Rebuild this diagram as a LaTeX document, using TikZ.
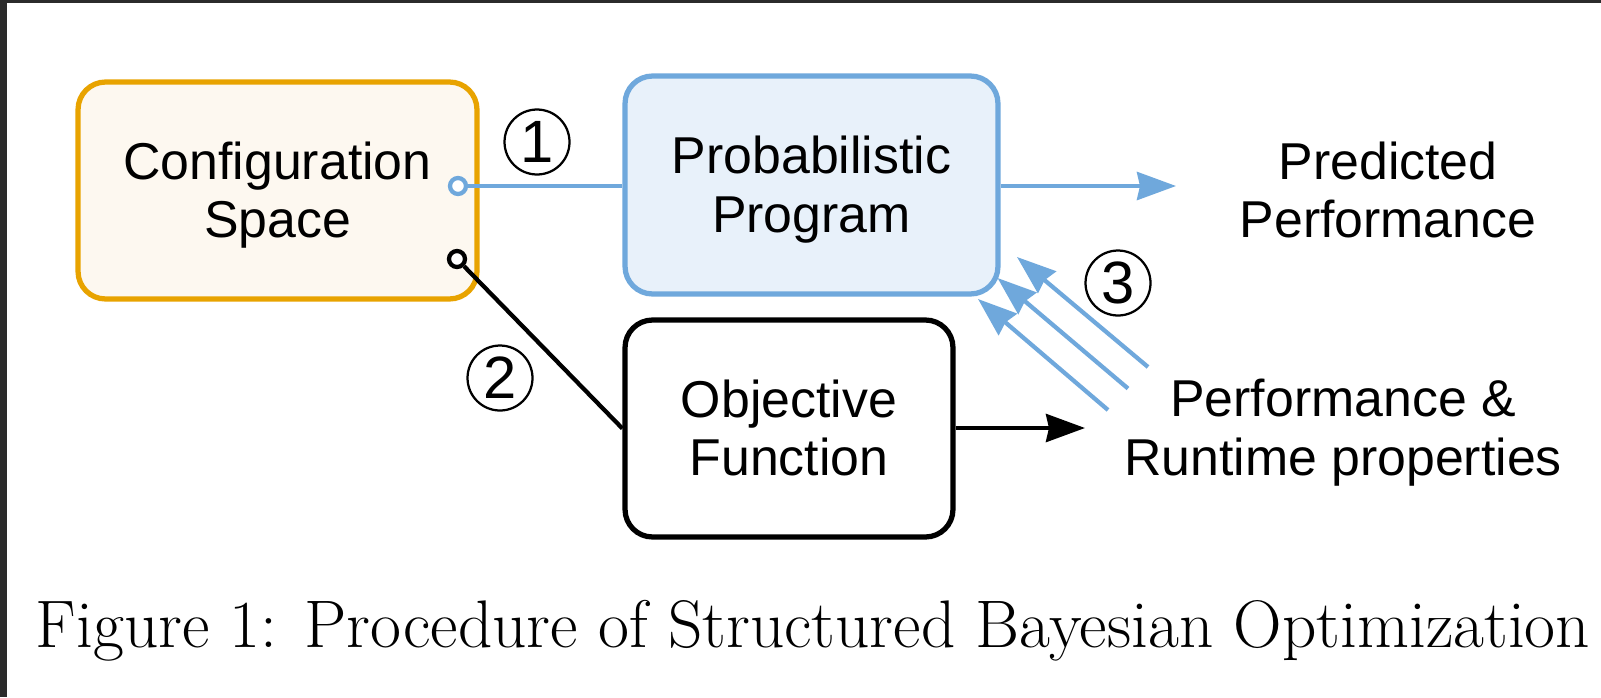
\documentclass[tikz,border=0pt]{standalone}
\usepackage{fontspec}
\newfontfamily\arialfont{Liberation Sans}
\usetikzlibrary{arrows.meta}
\usetikzlibrary{positioning}
\usetikzlibrary{calc}
\definecolor{orangeline}{RGB}{232,163,0}
\definecolor{orangefill}{RGB}{253,248,240}
\definecolor{blueline}{RGB}{111,168,220}
\definecolor{bluefill}{RGB}{232,241,250}
\definecolor{framegray}{RGB}{43,43,43}
\newcommand{\hstrut}{\rule{0pt}{27.5pt}}
\newcommand{\dstrut}{\rule[-7pt]{0pt}{7pt}}

\begin{document}
\begin{tikzpicture}[
            x = 0.02cm, y = -0.02cm, % one unit = one pixel
            > = {Stealth[length=0.78cm, width=0.56cm, inset=0.06cm]}, % arrow head style
            font = \arialfont\fontsize{29.5}{33.5}\selectfont,
            line width = 0.085cm % line style
        ]

        \tikzstyle{block}=[
            draw,
            line width = 0.105cm,
            rounded corners = 0.55cm,
            align = center,
            minimum height = 4.34cm
        ]
        \tikzstyle{outtext}=[align = center]
        \tikzstyle{port}=[circle, draw, fill = white, minimum size = 0.32cm, inner sep = 0pt]
        \tikzstyle{num}=[circle, draw, line width = 0.045cm, minimum size = 1.3cm, inner sep = 0pt,
            font = \arialfont\fontsize{34}{34}\selectfont]

        % screenshot frame
        \useasboundingbox (0,0) rectangle (1601,697);
        \fill[framegray] (0,0) rectangle (1601,697);
        \fill[white] (7,3) rectangle (1601,697);

        % boxes
        \node[block, draw = orangeline, fill = orangefill, minimum width = 7.98cm] (C) at (277.5,190.5) {\hstrut Configuration\\Space\dstrut};
        \node[block, draw = blueline, fill = bluefill, minimum width = 7.46cm, minimum height = 4.36cm] (P) at (811.5,185) {\hstrut Probabilistic\\Program\dstrut};
        \node[block, minimum width = 6.56cm] (O) at (789,428.5) {\hstrut Objective\\Function\dstrut};

        % outputs
        \node[outtext] (R) at (1388,190) {Predicted\\Performance};
        \node[outtext] (M) at (1343,433) {Performance \&\\Runtime properties};

        % ports
        \node[port, draw = blueline] (Cp) at (458,186) {};
        \node[port] (Co) at (457,259) {};

        % connectors
        \coordinate (Rin) at (1176,186);
        \coordinate (Min) at (1085,428);
        \draw[blueline] (Cp) -- (Cp -| P.west);
        \draw[blueline, ->] (P.east |- Rin) -- (Rin);
        \draw (Co) -- (O.west);
        \draw[->] (O.east |- Min) -- (Min);

        % feedback
        \foreach \i in {0,1,2} {
            \coordinate (t\i) at (1148-20*\i, 367+21.5*\i);
            \coordinate (h\i) at (1017-19.5*\i, 257+21*\i);
            \draw[blueline, ->] (t\i) -- (h\i);
        }

        % step numbers
        \node[num] (n1) at (537,142) {1};
        \node[num] (n2) at (500,378) {2};
        \node[num] (n3) at (1118,283) {3};

        % caption
        \node[anchor = base, font = \rmfamily\fontsize{38.3}{44}\selectfont] (cap) at (813,647) {Figure 1: Procedure of Structured Bayesian Optimization};

\end{tikzpicture}
\end{document}
